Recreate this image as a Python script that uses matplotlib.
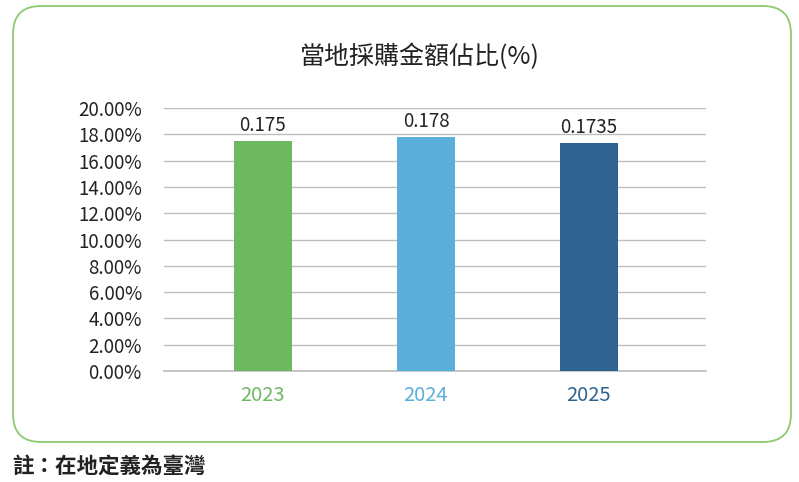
import matplotlib.pyplot as plt
from matplotlib.patches import FancyBboxPatch
from matplotlib.ticker import FuncFormatter

plt.rcParams['font.family'] = ['Noto Sans CJK TC', 'DejaVu Sans']

years = ['2023', '2024', '2025']
shares = [0.175, 0.178, 0.1735]
value_labels = ['0.175', '0.178', '0.1735']
bar_colors = ['#6FB862', '#5BAFDB', '#2E6291']

fig = plt.figure(figsize=(7.99, 4.82), dpi=100)

# rounded frame around the chart
frame = FancyBboxPatch((13 / 799, 40 / 482), 778 / 799, 436 / 482,
                       boxstyle='round,pad=0,rounding_size=0.035',
                       transform=fig.transFigure, facecolor='none',
                       edgecolor='#8DC96E', linewidth=1.3,
                       mutation_aspect=799 / 482, zorder=-1)
fig.patches.append(frame)

ax = fig.add_axes([164 / 799, 1 - 371 / 482, 542 / 799, 263 / 482])
ax.patch.set_alpha(0)
x = range(len(years))
ax.bar(x, shares, width=0.356, color=bar_colors, zorder=3)
for i, (v, lab) in enumerate(zip(shares, value_labels)):
    ax.text(i, v + 0.004, lab, ha='center', va='bottom', fontsize=13.5, color='#222222')

ax.set_ylim(0, 0.20)
ax.set_xlim(-0.607, 2.718)
ax.set_yticks([i * 0.02 for i in range(11)])
ax.yaxis.set_major_formatter(FuncFormatter(lambda v, p: f'{v * 100:.2f}%'))
ax.grid(axis='y', color='#BDBDBD', linewidth=1, zorder=0)
ax.axhline(0, color='#BDBDBD', linewidth=1.2, zorder=1, clip_on=False)
for s in ax.spines.values():
    s.set_visible(False)
ax.tick_params(axis='y', length=0, labelsize=13.5, pad=16, labelcolor='#222222')
ax.set_xticks(list(x))
ax.set_xticklabels(years, fontsize=14.5)
ax.tick_params(axis='x', length=0, pad=10)
for t, c in zip(ax.get_xticklabels(), bar_colors):
    t.set_color(c)

fig.text(420 / 799, 1 - 57 / 482, '當地採購金額佔比(%)', ha='center', va='center',
         fontsize=18, color='#222222')
fig.text(12 / 799, 1 - 466 / 482, '註：在地定義為臺灣', ha='left', va='center',
         fontsize=15.5, fontweight='bold', color='#222222')

fig.savefig('out.png', dpi=100)
